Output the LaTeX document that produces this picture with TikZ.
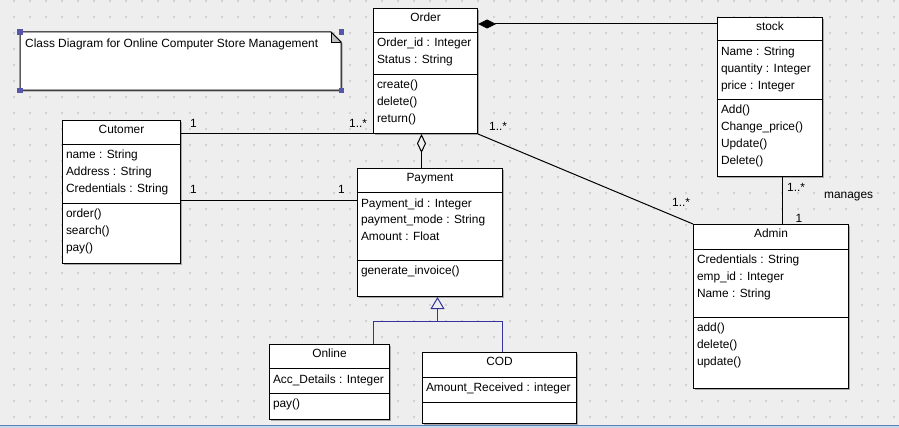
\documentclass[tikz,border=0pt]{standalone}
\usepackage{fontspec}
\setmainfont{Liberation Sans}
\usetikzlibrary{arrows.meta,calc,shadows}
\definecolor{bg}{HTML}{EEEEEE}
\definecolor{dotc}{HTML}{D2D2D2}
\definecolor{genblue}{RGB}{51,51,153}
\definecolor{handlec}{RGB}{85,85,170}
\definecolor{shadowc}{HTML}{A8A8A8}
\definecolor{foldc}{HTML}{C0C0C0}
\definecolor{edgeblue}{HTML}{5F80B5}
\definecolor{edgelight}{HTML}{C8D8EC}
\newcommand{\umlclass}[9]{%
  \node[classbox, minimum width=#3, minimum height=#4] (#1) at (#2) {};
  \draw[sepline] (#1.west |- 0,#5) -- (#1.east |- 0,#5);
  \draw[sepline] (#1.west |- 0,#6) -- (#1.east |- 0,#6);
  \node[txt, anchor=base] (#1-t) at ($(#1.north)+(0,13.7)$) {#7};
  \node[txt, anchor=base west] (#1-a) at ($(#1.west |- 0,#5)+(3.8,14.6)$) {\begin{tabular}[t]{@{}l@{}}#8\end{tabular}};
  \node[txt, anchor=base west] (#1-m) at ($(#1.west |- 0,#6)+(3.8,14.6)$) {\begin{tabular}[t]{@{}l@{}}#9\end{tabular}};
}
\begin{document}
\begin{tikzpicture}[x=1pt,y=-1pt,
  txt/.style={inner sep=0pt, font=\fontsize{11.9}{16.8}\selectfont},
  classbox/.style={draw=black, line width=1pt, fill=white, inner sep=0pt, anchor=north west,
    drop shadow={shadow xshift=1.5pt, shadow yshift=-1.5pt, fill=shadowc, opacity=1}},
  sepline/.style={line width=1pt},
  conn/.style={line width=1pt, draw=black},
  gen/.style={line width=1pt, draw=genblue},
  lbl/.style={txt, anchor=base west}]
% background
\fill[bg] (0,0) rectangle (899,428);
\useasboundingbox (0,0) rectangle (899,428);
\foreach \x in {14,30,...,894}{
  \foreach \y in {0.7,16.7,...,420}{
    \fill[dotc] (\x-1,\y-1) rectangle (\x+1,\y+1);
  }
}
\fill[edgeblue] (0,425) rectangle (899,426.2);
\fill[edgelight] (0,426.2) rectangle (899,428);

% note
\fill[shadowc] (21.5,33.5) -- (332.5,33.5) -- (342.5,43.5) -- (342.5,91.5) -- (21.5,91.5) -- cycle;
\draw[line width=1pt, fill=white] (20,32) -- (331,32) -- (341,42) -- (341,90) -- (20,90) -- cycle;
\fill[foldc] (331,32) -- (331,42) -- (341,42) -- cycle;
\draw[line width=0.8pt] (331,32) -- (331,42) -- (341,42);
\draw[line width=1pt] (331,32) -- (341,42);
\node[lbl] (notetext) at (25,47.7) {Class Diagram for Online Computer Store Management};
\foreach \cx/\cy in {20/32,341.5/32,20/90.5,341.5/90.5}{
  \fill[handlec] (\cx-2.8,\cy-2.8) rectangle (\cx+2.8,\cy+2.8);
}

% classes
\umlclass{order}{373,8}{104}{125}{32.3}{74}{Order}{Order\_id : Integer\\Status : String}{create()\\delete()\\return()}
\umlclass{stock}{717,17}{105}{159}{41}{99}{stock}{Name : String\\quantity : Integer\\price : Integer}{Add()\\Change\_price()\\Update()\\Delete()}
\umlclass{cutomer}{62,120}{118}{143}{144}{203}{Cutomer}{name : String\\Address : String\\Credentials : String}{order()\\search()\\pay()}
\umlclass{payment}{357,168}{145}{128}{192.5}{260}{Payment}{Payment\_id : Integer\\payment\_mode : String\\Amount : Float}{generate\_invoice()}
\umlclass{admin}{693,224}{155}{164}{249}{317}{Admin}{Credentials : String\\emp\_id : Integer\\Name : String}{add()\\delete()\\update()}
\umlclass{online}{269,344}{120}{75}{368.5}{393}{Online}{Acc\_Details : Integer}{pay()}
\umlclass{cod}{422,352}{154}{71}{377}{402}{COD}{Amount\_Received : integer}{}

% connectors
\draw[conn] ($(cutomer.north east)+(0,13)$) -- (order.west |- {$(cutomer.north east)+(0,13)$});
\draw[conn] ($(cutomer.north east)+(0,80)$) -- (payment.west |- {$(cutomer.north east)+(0,80)$});
\draw[conn, {Diamond[open, length=19pt, width=9pt]}-] ([xshift=-4pt]order.south) -- ([xshift=-4pt]order.south |- payment.north);
\draw[conn, {Diamond[length=18pt, width=9pt]}-] ($(order.north east)+(0,16)$) -- (stock.west |- {$(order.north east)+(0,16)$});
\draw[conn] (order.south east) -- (admin.north west);
\draw[conn] ([xshift=12.5pt]stock.south) -- ([xshift=12.5pt]stock.south |- admin.north);
\coordinate (gj) at ($(payment.south)+(7.5,24)$);
\draw[gen] ([xshift=44pt]online.north) |- (gj);
\draw[gen] ([xshift=3pt]cod.north) |- (gj);
\draw[gen, -{Triangle[open, length=12pt, width=14pt]}] (gj) -- ([xshift=7.5pt]payment.south);

% multiplicity labels
\node[lbl] (l1) at (190,127.3) {1};
\node[lbl] (l2) at (349,127.3) {1..*};
\node[lbl] (l3) at (190,193.3) {1};
\node[lbl] (l4) at (338,193.3) {1};
\node[lbl] (l5) at (489,130.7) {1..*};
\node[lbl] (l6) at (672,206.7) {1..*};
\node[lbl] (l7) at (787,191.7) {1..*};
\node[lbl] (l8) at (824,198.5) {manages};
\node[lbl] (l9) at (795.5,222) {1};
\end{tikzpicture}
\end{document}
